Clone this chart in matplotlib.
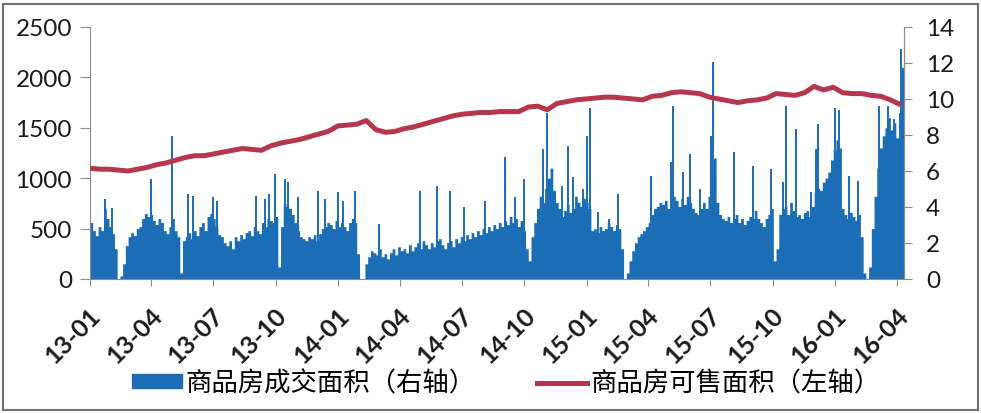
import numpy as np
import pandas as pd
import matplotlib
matplotlib.use("Agg")
import matplotlib.pyplot as plt
import matplotlib.dates as mdates
import matplotlib.transforms as mtransforms
from matplotlib.patches import Patch, Rectangle
from matplotlib.lines import Line2D

# daily transaction area, sampled every 4 days from 2013-01-01
deal_area = [
    560, 480, 430, 520, 480, 700, 600, 520, 450, 300,
    0, 30, 150, 330, 420, 460, 430, 500, 520, 600,
    650, 620, 640, 580, 540, 600, 560, 480, 450, 520,
    600, 480, 420, 60, 380, 420, 460, 400, 480, 430,
    520, 560, 480, 620, 650, 600, 520, 440, 420, 360,
    330, 380, 300, 420, 380, 440, 400, 460, 480, 430,
    520, 480, 450, 560, 520, 600, 580, 560, 620, 120,
    520, 750, 720, 700, 640, 560, 480, 420, 400, 380,
    420, 400, 440, 380, 450, 500, 520, 560, 540, 500,
    580, 520, 560, 520, 480, 560, 600, 560, 250, 0,
    0, 150, 220, 280, 260, 240, 300, 220, 250, 200,
    260, 300, 240, 320, 280, 300, 260, 340, 280, 320,
    360, 300, 380, 340, 300, 360, 320, 380, 400, 340,
    300, 360, 380, 320, 400, 360, 420, 380, 440, 400,
    460, 420, 480, 440, 500, 460, 520, 480, 540, 500,
    560, 520, 580, 540, 620, 560, 600, 520, 580, 480,
    300, 180, 420, 560, 700, 820, 760, 900, 1000, 1100,
    880, 760, 700, 620, 680, 740, 660, 700, 820, 760,
    720, 800, 760, 700, 480, 500, 460, 520, 480, 500,
    560, 520, 480, 540, 500, 300, 0, 60, 180, 280,
    360, 420, 450, 480, 520, 560, 640, 700, 720, 760,
    740, 780, 700, 760, 820, 780, 720, 800, 740, 820,
    760, 700, 660, 640, 700, 760, 700, 820, 1050, 1200,
    760, 640, 600, 580, 620, 560, 600, 640, 560, 600,
    540, 580, 620, 600, 680, 600, 560, 520, 600, 640,
    700, 180, 300, 640, 700, 720, 640, 760, 680, 620,
    640, 600, 660, 680, 620, 720, 860, 900, 880, 960,
    1000, 1060, 1180, 1280, 1380, 1300, 700, 640, 600, 660,
    620, 580, 640, 420, 60, 0, 120, 500, 820, 1100,
    1300, 1420, 1500, 1600, 1480, 1550, 1400, 1650, 2100,
]

# single-day peaks of transaction area
spike_dates = [
    "2013-01-23", "2013-02-02", "2013-03-31", "2013-05-02", "2013-05-25",
    "2013-06-01", "2013-07-01", "2013-07-06", "2013-09-02", "2013-09-15",
    "2013-09-21", "2013-09-30", "2013-10-15", "2013-10-19", "2013-11-03",
    "2013-12-02", "2013-12-13", "2014-01-01", "2014-01-08", "2014-01-26",
    "2014-03-01", "2014-05-01", "2014-05-26", "2014-06-14", "2014-07-04",
    "2014-08-05", "2014-09-03", "2014-09-17", "2014-10-01", "2014-10-29",
    "2014-11-04", "2014-11-26", "2014-12-05", "2014-12-12", "2014-12-26",
    "2015-01-02", "2015-01-05", "2015-01-18", "2015-02-02", "2015-02-16",
    "2015-04-05", "2015-05-04", "2015-05-07", "2015-05-23", "2015-06-02",
    "2015-06-17", "2015-07-02", "2015-07-06", "2015-08-05", "2015-09-02",
    "2015-09-29", "2015-10-16", "2015-10-20", "2015-11-04", "2015-11-26",
    "2015-12-03", "2015-12-06", "2015-12-31", "2016-01-07", "2016-01-21",
    "2016-02-04", "2016-03-06", "2016-03-18", "2016-03-27", "2016-04-06",
]
spike_vals = [
    790, 700, 990, 1420, 840,
    825, 810, 775, 825, 790,
    840, 1040, 990, 960, 810,
    875, 790, 860, 775, 875,
    545, 875, 925, 875, 710,
    775, 1210, 810, 990, 1290,
    1650, 925, 1320, 1010, 890,
    1420, 1700, 665, 595, 840,
    1020, 1160, 1720, 1060, 1240,
    890, 1420, 2150, 1260, 1120,
    1090, 960, 1720, 1490, 860,
    1290, 1540, 1700, 1680, 1020,
    970, 1720, 1720, 1590, 2280,
]

# saleable stock, every 14 days from 2013-01-01
stock_area = [
    6.15, 6.1, 6.1, 6.05, 6.0, 6.1, 6.2, 6.35, 6.45, 6.6,
    6.75, 6.85, 6.85, 6.95, 7.05, 7.15, 7.25, 7.2, 7.15, 7.4,
    7.55, 7.65, 7.75, 7.9, 8.05, 8.2, 8.5, 8.55, 8.6, 8.8,
    8.3, 8.15, 8.2, 8.35, 8.45, 8.6, 8.75, 8.9, 9.05, 9.15,
    9.2, 9.25, 9.25, 9.3, 9.3, 9.3, 9.55, 9.6, 9.4, 9.75,
    9.85, 9.95, 10.0, 10.05, 10.1, 10.1, 10.05, 10.0, 9.95, 10.15,
    10.2, 10.35, 10.4, 10.35, 10.3, 10.1, 10.0, 9.9, 9.8, 9.9,
    9.95, 10.05, 10.3, 10.25, 10.2, 10.35, 10.7, 10.5, 10.65, 10.35,
    10.3, 10.3, 10.2, 10.15, 9.95, 9.7,
]

BLUE = "#1B6DB5"
RED = "#B5374F"
GREY = "#8C8C8C"
cjk = ["Noto Sans CJK SC", "DejaVu Sans"]

deal_dates = pd.date_range("2013-01-01", periods=len(deal_area), freq="4D")
edges = deal_dates.append(pd.DatetimeIndex([deal_dates[-1] + pd.Timedelta(days=4)]))
stock_dates = pd.date_range("2013-01-01", periods=len(stock_area), freq="14D")

fig = plt.figure(figsize=(9.81, 4.14), dpi=100)
ax = fig.add_axes([0.0917, 0.3237, 0.8298, 0.6087])
ax2 = ax.twinx()

ax.fill_between(edges, deal_area + [deal_area[-1]], step="post", color=BLUE, lw=0)
ax.vlines(pd.to_datetime(spike_dates), 0, spike_vals, color=BLUE, lw=1.4)
ax2.plot(stock_dates, stock_area, color=RED, lw=3.6, solid_capstyle="round")

ax.set_xlim(pd.Timestamp("2013-01-01"), pd.Timestamp("2016-04-11"))
ax.set_ylim(0, 2500)
ax.set_yticks(np.arange(0, 2501, 500))
ax2.set_ylim(0, 14)
ax2.set_yticks(np.arange(0, 15, 2))

ax.xaxis.set_major_locator(mdates.MonthLocator(bymonth=[1, 4, 7, 10]))
ax.xaxis.set_major_formatter(mdates.DateFormatter("%y-%m"))

for a in (ax, ax2):
    a.spines["top"].set_visible(False)
    for s in ("left", "right", "bottom"):
        a.spines[s].set_color(GREY)
ax2.spines["left"].set_visible(False)
ax2.spines["bottom"].set_visible(False)

ax.tick_params(axis="y", direction="out", length=7, pad=6, color=GREY,
               labelsize=17.5, labelcolor="#1a1a1a")
ax.tick_params(axis="x", direction="out", length=5, pad=18, color=GREY,
               labelsize=18, labelcolor="#1a1a1a")
ax2.tick_params(axis="y", direction="out", length=6, pad=10, color=GREY,
                labelsize=17.5, labelcolor="#1a1a1a")

# shift the rotated date labels a little to the right of their ticks
shift = mtransforms.ScaledTranslation(7 / 100, 0, fig.dpi_scale_trans)
for lab in ax.get_xticklabels():
    lab.set_rotation(45)
    lab.set_ha("right")
    lab.set_va("center")
    lab.set_rotation_mode("anchor")
    lab.set_fontweight("bold")
    lab.set_transform(lab.get_transform() + shift)
for lab in ax.get_yticklabels() + ax2.get_yticklabels() + ax.get_xticklabels():
    lab.set_family("Lato")

handles = [
    Patch(color=BLUE),
    Line2D([0], [0], color=RED, lw=3.6),
]
labels = ["商品房成交面积（右轴）", "商品房可售面积（左轴）"]
fig.legend(handles, labels, loc="center", bbox_to_anchor=(0.516, 0.072), ncol=2,
           frameon=False, prop={"family": cjk, "size": 19},
           handlelength=1.9, handleheight=0.42, handletextpad=0.12,
           columnspacing=2.35)

fig.patches.append(Rectangle((0.003, 0.0072), 0.9939, 0.9807, transform=fig.transFigure,
                             fill=False, ec="#707070", lw=1.5))

fig.savefig("out.png", dpi=100)
